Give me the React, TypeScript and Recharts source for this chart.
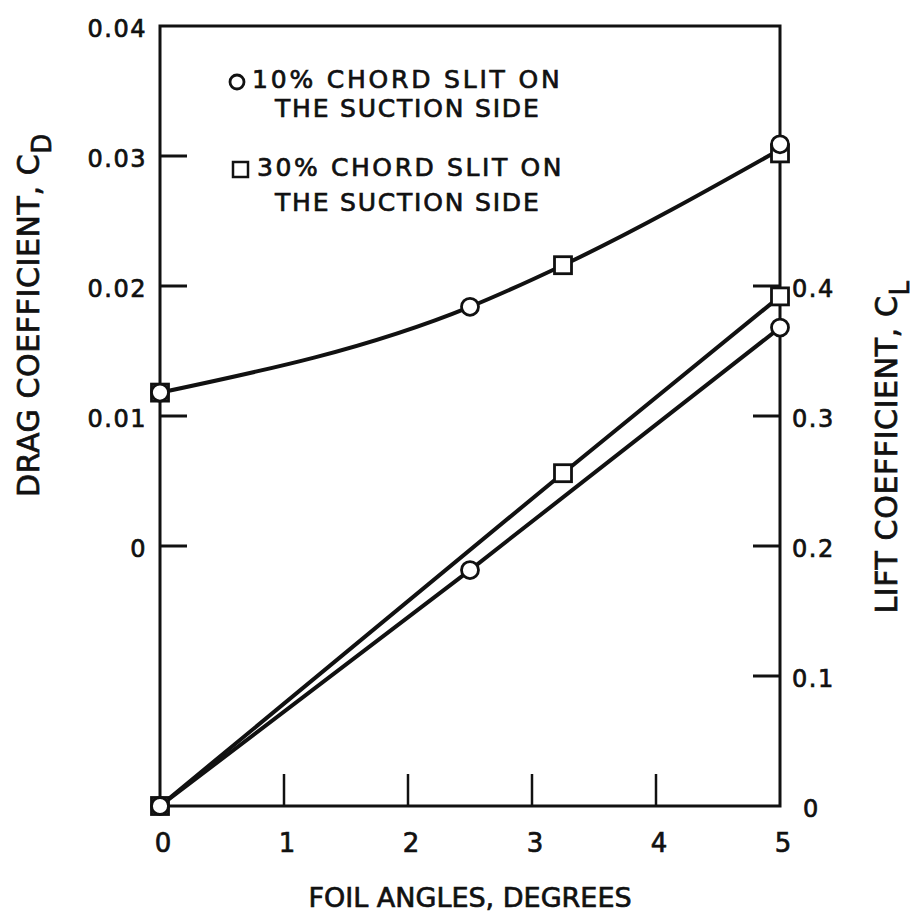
import { LineChart, Line, XAxis, YAxis, ReferenceArea, Legend, Label } from "recharts";

const FONT = "'DejaVu Sans', sans-serif";
const INK = "#111";

// foil angle, degrees
const angles10 = [0, 2.5, 5];
const angles30 = [0, 3.25, 5];
const dragFitAngles = [0, 2.5, 3.25, 5];

// drag coefficient C_D (left axis)
const drag10 = [0.0118, 0.0184, 0.0309];
const drag30 = [0.0118, 0.0216, 0.0302];
const dragFit = [0.0118, 0.0184, 0.0216, 0.0305];

// lift coefficient C_L (right axis)
const lift10 = [0, 0.1815, 0.368];
const lift30 = [0, 0.256, 0.392];

const xTicks = [0, 1, 2, 3, 4, 5];
const cdTicks = [0, 0.01, 0.02, 0.03, 0.04];
const clTicks = [0, 0.1, 0.2, 0.3, 0.4];

const pts = (xs: number[], ys: number[]) => xs.map((x, i) => ({ x, y: ys[i] }));

function CircleDot(props: any) {
  const { cx, cy, index } = props;
  if (cx == null || cy == null) return null;
  return <circle key={`c${index}`} cx={cx} cy={cy} r={8.5} fill="#fff" stroke={INK} strokeWidth={2.8} />;
}

function SquareDot(props: any) {
  const { cx, cy, index } = props;
  if (cx == null || cy == null) return null;
  return (
    <rect key={`s${index}`} x={cx - 8.5} y={cy - 8.5} width={17} height={17} fill="#fff" stroke={INK} strokeWidth={2.8} />
  );
}

// scanned print looks heavier than the plain font, so the glyphs get a thin outline
const txt = { fontFamily: FONT, fill: INK, stroke: INK, strokeWidth: 0.7 };

function LeftTick({ x, y, payload }: any) {
  const v = payload.value as number;
  return (
    <g>
      {v < 0.04 && <line x1={x} x2={x + 27} y1={y} y2={y} stroke={INK} strokeWidth={3} />}
      <text x={x - 13} y={y + 3} textAnchor="end" dominantBaseline="central" fontSize={24} letterSpacing={1.5} {...txt}>
        {v === 0 ? "0" : v.toFixed(2)}
      </text>
    </g>
  );
}

function RightTick({ x, y, payload }: any) {
  const v = payload.value as number;
  return (
    <g>
      {v > 0 && <line x1={x - 27} x2={x} y1={y} y2={y} stroke={INK} strokeWidth={3} />}
      <text x={v === 0 ? x + 23 : x + 12} y={y + 3} textAnchor="start" dominantBaseline="central" fontSize={24} letterSpacing={1.5} {...txt}>
        {v === 0 ? "0" : v.toFixed(1)}
      </text>
    </g>
  );
}

function BottomTick({ x, y, payload }: any) {
  const v = payload.value as number;
  return (
    <g>
      {v > 0 && v < 5 && <line x1={x} x2={x} y1={y} y2={y - 32} stroke={INK} strokeWidth={2.5} />}
      <text x={x + 3} y={y + 37} textAnchor="middle" dominantBaseline="central" fontSize={26} {...txt}>
        {v}
      </text>
    </g>
  );
}

function LegendBox() {
  return (
    <svg width={380} height={160} style={{ display: "block", overflow: "visible" }}>
      <circle cx={15} cy={20} r={7} fill="#fff" stroke={INK} strokeWidth={2.8} />
      <text x={30} y={17} dominantBaseline="central" fontSize={25} letterSpacing={2.8} {...txt}>10% CHORD SLIT ON</text>
      <text x={53} y={46} dominantBaseline="central" fontSize={25} letterSpacing={1.8} {...txt}>THE SUCTION SIDE</text>
      <rect x={11} y={100} width={15} height={15} fill="#fff" stroke={INK} strokeWidth={2.5} />
      <text x={35} y={105} dominantBaseline="central" fontSize={25} letterSpacing={2.6} {...txt}>30% CHORD SLIT ON</text>
      <text x={53} y={140} dominantBaseline="central" fontSize={25} letterSpacing={1.8} {...txt}>THE SUCTION SIDE</text>
    </svg>
  );
}

export default function App() {
  return (
    <div style={{ width: 920, height: 918, background: "#fff" }}>
      <style>{"body{margin:0}"}</style>
      <LineChart width={920} height={918} margin={{ top: 26, right: 40, bottom: 52, left: 60 }}>
        <XAxis
          dataKey="x"
          type="number"
          domain={[0, 5]}
          ticks={xTicks}
          axisLine={false}
          tickLine={false}
          tickSize={0}
          tickMargin={0}
          height={60}
          tick={<BottomTick />}
        >
          <Label
            content={({ viewBox }: any) => (
              <text x={viewBox.x + viewBox.width / 2} y={viewBox.y + 91} textAnchor="middle" dominantBaseline="central" fontSize={27} {...txt}>
                FOIL ANGLES, DEGREES
              </text>
            )}
          />
        </XAxis>
        <YAxis
          yAxisId="cd"
          orientation="left"
          type="number"
          domain={[-0.02, 0.04]}
          ticks={cdTicks}
          axisLine={false}
          tickLine={false}
          tickSize={0}
          tickMargin={0}
          width={100}
          tick={<LeftTick />}
        >
          <Label
            content={({ viewBox }: any) => {
              const cx = viewBox.x - 32;
              const cy = viewBox.y + 289;
              return (
                <text x={cx} y={cy} transform={`rotate(-90 ${cx} ${cy})`} textAnchor="middle" dominantBaseline="central" fontSize={30} letterSpacing={0.6} {...txt}>
                  DRAG COEFFICIENT, C<tspan dy={14} fontSize={26}>D</tspan>
                </text>
              );
            }}
          />
        </YAxis>
        <YAxis
          yAxisId="cl"
          orientation="right"
          type="number"
          domain={[0, 0.6]}
          ticks={clTicks}
          axisLine={false}
          tickLine={false}
          tickSize={0}
          tickMargin={0}
          width={100}
          tick={<RightTick />}
        >
          <Label
            content={({ viewBox }: any) => {
              const cx = viewBox.x + 106;
              const cy = viewBox.y + 421;
              return (
                <text x={cx} y={cy} transform={`rotate(-90 ${cx} ${cy})`} textAnchor="middle" dominantBaseline="central" fontSize={30} letterSpacing={0.6} {...txt}>
                  LIFT COEFFICIENT, C<tspan dy={14} fontSize={26}>L</tspan>
                </text>
              );
            }}
          />
        </YAxis>

        <ReferenceArea yAxisId="cd" x1={0} x2={5} y1={-0.02} y2={0.04} fill="none" stroke={INK} strokeWidth={3} />

        <Line yAxisId="cd" data={pts(dragFitAngles, dragFit)} dataKey="y" type="monotone" stroke={INK} strokeWidth={4} dot={false} isAnimationActive={false} legendType="none" />
        <Line yAxisId="cl" data={pts(angles30, lift30)} dataKey="y" type="linear" stroke={INK} strokeWidth={4} dot={<SquareDot />} isAnimationActive={false} legendType="none" />
        <Line yAxisId="cl" data={pts(angles10, lift10)} dataKey="y" type="linear" stroke={INK} strokeWidth={4} dot={<CircleDot />} isAnimationActive={false} legendType="none" />
        <Line yAxisId="cd" data={pts(angles30, drag30)} dataKey="y" stroke="none" dot={<SquareDot />} isAnimationActive={false} legendType="none" />
        <Line yAxisId="cd" data={pts(angles10, drag10)} dataKey="y" stroke="none" dot={<CircleDot />} isAnimationActive={false} legendType="none" />

        <Legend
          layout="horizontal"
          verticalAlign="middle"
          align="center"
          wrapperStyle={{ left: 222, top: 62, width: 380, height: 160 }}
          content={() => <LegendBox />}
        />
      </LineChart>
    </div>
  );
}
